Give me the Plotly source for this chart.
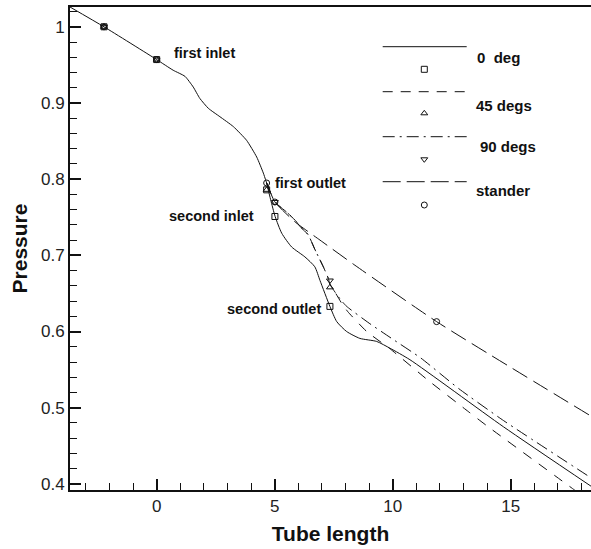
import plotly.graph_objects as go

# ---------------- data ----------------
# shared upstream part (first tube), all cases coincide
common_x = [-3.67, -2.23, 0.0, 0.7, 1.2, 1.55, 1.83, 2.19, 2.68, 3.25, 3.81, 4.24, 4.52, 4.66]
common_y = [1.026, 1.000, 0.957, 0.943, 0.935, 0.921, 0.906, 0.893, 0.882, 0.869, 0.851, 0.829, 0.808, 0.795]

# 0 deg (solid)
deg0_x = [4.66, 4.83, 5.02, 5.3, 5.72, 6.28, 6.7, 6.92, 7.34, 7.63, 8.05, 8.61, 9.32, 9.89, 10.73, 14.69, 18.4]
deg0_y = [0.795, 0.773, 0.751, 0.729, 0.711, 0.698, 0.685, 0.667, 0.633, 0.613, 0.600, 0.591, 0.587, 0.578, 0.563, 0.475, 0.397]

# 45 degs (dashed)
deg45_x = [4.66, 5.01, 5.5, 5.9, 6.07, 6.42, 6.7, 7.06, 7.27, 7.34, 7.55, 7.84, 8.1, 8.9, 9.9, 11.5, 13.2, 14.0, 17.7, 18.4]
deg45_y = [0.795, 0.770, 0.757, 0.745, 0.738, 0.727, 0.708, 0.685, 0.670, 0.662, 0.652, 0.637, 0.626, 0.600, 0.577, 0.536, 0.495, 0.476, 0.392, 0.376]

# 90 degs (dash-dot)
deg90_x = [4.66, 5.01, 5.5, 5.9, 6.07, 6.42, 6.7, 7.06, 7.27, 7.34, 7.55, 7.84, 8.05, 9.0, 10.0, 11.2, 12.8, 14.7, 18.4]
deg90_y = [0.795, 0.770, 0.757, 0.745, 0.738, 0.727, 0.708, 0.685, 0.670, 0.662, 0.652, 0.640, 0.633, 0.611, 0.590, 0.565, 0.525, 0.483, 0.408]

# stander (long dash)
std_x = [4.66, 5.01, 5.86, 6.92, 8.4, 11.86, 18.4]
std_y = [0.795, 0.770, 0.744, 0.720, 0.687, 0.613, 0.489]

# marker locations per case
m0_x = [-2.23, 0.0, 4.66, 5.01, 7.34]
m0_y = [1.000, 0.957, 0.786, 0.751, 0.633]
m45_x = [-2.23, 0.0, 4.66, 7.34]
m45_y = [1.000, 0.957, 0.786, 0.658]
m90_x = [-2.23, 0.0, 5.01, 7.34]
m90_y = [1.000, 0.957, 0.770, 0.667]
mstd_x = [-2.23, 0.0, 4.66, 5.01, 11.86]
mstd_y = [1.000, 0.957, 0.795, 0.770, 0.613]

legend_labels = ["0  deg", "45 degs", "90 degs", "stander"]
location_labels = ["first inlet", "first outlet", "second inlet", "second outlet"]

# ---------------- figure ----------------
W, H = 591, 549
L, R, T, B = 70, 0, 7, 59
X0, X1 = -3.67, 18.4
Y0, Y1 = 0.392, 1.026

fig = go.Figure()
blk = "#111111"
FAM = "Liberation Sans, Arial"

def line(x, y, dash, smoothing=0.6):
    fig.add_trace(go.Scatter(x=x, y=y, mode="lines",
                             line=dict(color=blk, width=1, dash=dash, shape="spline", smoothing=smoothing),
                             showlegend=False, hoverinfo="skip"))

line(common_x, common_y, "solid", 0.5)
line(deg0_x, deg0_y, "solid", 0.6)
line(deg45_x, deg45_y, "10px,9px", 0.5)
line(deg90_x, deg90_y, "12px,5px,2px,5px", 0.5)
line(std_x, std_y, "17px,7px", 0.5)

def marks(x, y, sym):
    fig.add_trace(go.Scatter(x=x, y=y, mode="markers",
                             marker=dict(symbol=sym, size=6, color=blk, line=dict(color=blk, width=1)),
                             showlegend=False, hoverinfo="skip"))

marks(m0_x, m0_y, "square-open")
marks(m45_x, m45_y, "triangle-up-open")
marks(m90_x, m90_y, "triangle-down-open")
marks(mstd_x, mstd_y, "circle-open")

# location annotations (data coords, left anchored)
loc_pos = [(0.64, 0.965), (4.94, 0.795), (0.42, 0.752), (2.89, 0.629)]
for txt, (ax_, ay_) in zip(location_labels, loc_pos):
    fig.add_annotation(x=ax_, y=ay_, text=f"<b>{txt}</b>", showarrow=False,
                       xanchor="left", yanchor="middle",
                       font=dict(family=FAM, size=14.5, color=blk))

# custom Tecplot-style legend (paper coords from pixel positions)
def px(xp):
    return (xp - L) / (W - L - R)

def py(yp):
    return (H - B - yp) / (H - T - B)

leg_dash_px = ["solid", "10px,8px", "12px,5px,2px,5px", "18px,6px"]
leg_line_y = [46.7, 91.7, 136.7, 181.7]
leg_text_xy = [(475, 57.3), (474, 105), (478, 146.7), (474, 190)]
leg_mark_y = [69.3, 113.3, 159.3, 205]
leg_sym = ["square-open", "triangle-up-open", "triangle-down-open", "circle-open"]

for i in range(4):
    fig.add_trace(go.Scatter(x=[px(382.7), px(466.7)], y=[py(leg_line_y[i])] * 2,
                             xaxis="x2", yaxis="y2", mode="lines",
                             line=dict(color=blk, width=1, dash=leg_dash_px[i]),
                             showlegend=False, hoverinfo="skip"))
    fig.add_trace(go.Scatter(x=[px(424.3)], y=[py(leg_mark_y[i])],
                             xaxis="x2", yaxis="y2", mode="markers",
                             marker=dict(symbol=leg_sym[i], size=6, color=blk, line=dict(color=blk, width=1)),
                             showlegend=False, hoverinfo="skip"))
    tx, ty = leg_text_xy[i]
    fig.add_annotation(x=px(tx), y=py(ty), xref="paper", yref="paper",
                       text=f"<b>{legend_labels[i]}</b>", showarrow=False,
                       xanchor="left", yanchor="middle",
                       font=dict(family=FAM, size=15, color=blk))

axfont = dict(family=FAM, size=17, color="#222222")
fig.update_layout(
    width=W, height=H,
    margin=dict(l=L, r=R, t=T, b=B, autoexpand=False),
    paper_bgcolor="white", plot_bgcolor="white",
    showlegend=False,
    xaxis=dict(range=[X0, X1], tick0=0, dtick=5, ticks="inside", ticklen=11, tickwidth=2,
               tickcolor=blk, showline=True, linecolor=blk, linewidth=2, mirror=True,
               showgrid=False, zeroline=False, tickfont=axfont, automargin=False,
               minor=dict(ticks="inside", ticklen=7, tickwidth=1, tickcolor=blk, dtick=1, showgrid=False),
               title=dict(text="<b>Tube length</b>", font=dict(family=FAM, size=21, color=blk),
                          standoff=11)),
    yaxis=dict(range=[Y0, Y1], tick0=0, dtick=0.1, ticks="inside", ticklen=11, tickwidth=2,
               tickcolor=blk, showline=True, linecolor=blk, linewidth=2, mirror=False,
               showgrid=False, zeroline=False, tickfont=axfont, automargin=False,
               minor=dict(ticks="inside", ticklen=7, tickwidth=1, tickcolor=blk, dtick=0.02, showgrid=False),
               title=dict(text="<b>Pressure</b>", font=dict(family=FAM, size=21, color=blk),
                          standoff=8)),
    xaxis2=dict(range=[0, 1], overlaying="x", visible=False, domain=[0, 1]),
    yaxis2=dict(range=[0, 1], overlaying="y", visible=False),
)

fig.write_html("out.html", config={"displayModeBar": False},
               post_script="document.body.style.margin='0';document.body.style.overflow='hidden';")
